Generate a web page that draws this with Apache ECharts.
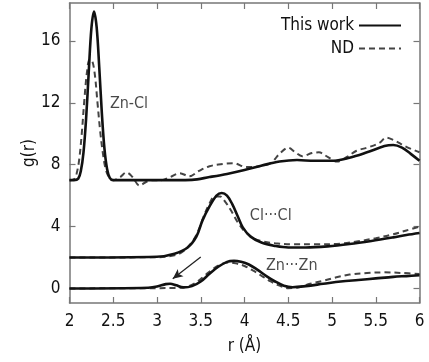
<!DOCTYPE html>
<html>
<head>
<meta charset="utf-8">
<script src="https://cdn.jsdelivr.net/npm/echarts@6/dist/echarts.min.js"></script>
<style>
  html, body { margin: 0; padding: 0; background: #fff; }
  #chart { width: 429px; height: 362px; }
</style>
</head>
<body>
<div id="chart"></div>
<script>
// Radial distribution functions g(r); Zn-Cl offset by +7, Cl···Cl by +2.
const xTicks = [2, 2.5, 3, 3.5, 4, 4.5, 5, 5.5, 6];
const yTicks = [0, 4, 8, 12, 16];

const znclWork = [
  [2.0, 7.0], [2.05, 7.0], [2.1, 7.1], [2.13, 7.6], [2.16, 8.8], [2.19, 11.0],
  [2.22, 14.0], [2.25, 16.8], [2.28, 17.9], [2.31, 16.9], [2.34, 14.3],
  [2.37, 11.3], [2.40, 9.0], [2.43, 7.7], [2.46, 7.15], [2.5, 7.0], [3.0, 7.0],
  [3.4, 7.02], [3.6, 7.2], [3.8, 7.4], [4.0, 7.65], [4.2, 7.95], [4.4, 8.2],
  [4.6, 8.3], [4.8, 8.25], [5.0, 8.25], [5.2, 8.45], [5.4, 8.8], [5.6, 9.2],
  [5.7, 9.27], [5.8, 9.1], [5.9, 8.7], [6.0, 8.25]
];
const znclND = [
  [2.0, 7.0], [2.05, 7.05], [2.08, 7.4], [2.11, 8.3], [2.14, 10.0], [2.17, 12.2],
  [2.20, 14.0], [2.23, 14.8], [2.26, 14.7], [2.29, 13.8], [2.32, 12.0],
  [2.35, 10.2], [2.38, 8.8], [2.41, 7.8], [2.45, 7.2], [2.5, 7.0], [2.58, 7.2],
  [2.65, 7.5], [2.72, 7.2], [2.8, 6.65], [2.88, 6.9], [2.96, 7.0], [3.05, 7.0],
  [3.15, 7.2], [3.26, 7.45], [3.37, 7.25], [3.48, 7.6], [3.6, 7.9], [3.75, 8.05],
  [3.87, 8.1], [4.02, 7.85], [4.17, 7.9], [4.3, 8.1], [4.4, 8.7], [4.5, 9.1],
  [4.58, 8.8], [4.66, 8.55], [4.77, 8.75], [4.85, 8.8], [4.95, 8.5], [5.06, 8.2],
  [5.17, 8.5], [5.28, 8.9], [5.4, 9.1], [5.54, 9.4], [5.62, 9.75], [5.7, 9.6],
  [5.85, 9.15], [6.0, 8.8]
];
const clclWork = [
  [2.0, 2.0], [3.0, 2.05], [3.2, 2.25], [3.35, 2.65], [3.45, 3.35], [3.52, 4.4],
  [3.6, 5.3], [3.68, 6.0], [3.74, 6.17], [3.8, 6.0], [3.86, 5.45], [3.92, 4.7],
  [3.98, 3.95], [4.07, 3.35], [4.2, 2.95], [4.35, 2.75], [4.5, 2.65], [4.7, 2.65],
  [4.95, 2.72], [5.2, 2.87], [5.45, 3.07], [5.7, 3.3], [5.85, 3.45], [6.0, 3.58]
];
const clclND = [
  [2.0, 2.0], [3.0, 2.02], [3.2, 2.15], [3.3, 2.4], [3.4, 3.0], [3.47, 3.7],
  [3.53, 4.6], [3.6, 5.5], [3.66, 5.95], [3.72, 5.95], [3.78, 5.6], [3.85, 5.0],
  [3.92, 4.3], [4.0, 3.7], [4.1, 3.25], [4.2, 3.05], [4.35, 2.92], [4.55, 2.85],
  [4.8, 2.85], [5.1, 2.9], [5.3, 3.05], [5.5, 3.25], [5.7, 3.5], [5.85, 3.75],
  [6.0, 4.0]
];
const znznWork = [
  [2.0, 0.0], [2.9, 0.05], [3.0, 0.12], [3.1, 0.28], [3.15, 0.3], [3.22, 0.2],
  [3.3, 0.07], [3.4, 0.15], [3.5, 0.45], [3.6, 0.95], [3.7, 1.4], [3.8, 1.72],
  [3.88, 1.78], [3.96, 1.72], [4.05, 1.55], [4.15, 1.2], [4.25, 0.8], [4.35, 0.45],
  [4.45, 0.18], [4.55, 0.08], [4.7, 0.15], [4.9, 0.3], [5.1, 0.45], [5.3, 0.55],
  [5.5, 0.65], [5.7, 0.75], [5.85, 0.8], [6.0, 0.85]
];
const znznND = [
  [2.0, 0.0], [3.0, 0.02], [3.2, 0.03], [3.35, 0.12], [3.45, 0.4], [3.55, 0.85],
  [3.65, 1.3], [3.75, 1.6], [3.82, 1.68], [3.9, 1.62], [4.0, 1.45], [4.1, 1.15],
  [4.2, 0.8], [4.3, 0.45], [4.4, 0.18], [4.5, 0.02], [4.6, 0.05], [4.75, 0.3],
  [4.9, 0.5], [5.05, 0.72], [5.2, 0.9], [5.4, 1.0], [5.6, 1.04], [5.8, 1.0],
  [6.0, 0.93]
];

// Pair labels, placed in data coordinates (r, g)
const pairLabels = [
  { text: 'Zn-Cl', r: 2.68, g: 11.95 },
  { text: 'Cl\u00B7\u00B7\u00B7Cl', r: 4.3, g: 4.7 },
  { text: 'Zn\u00B7\u00B7\u00B7Zn', r: 4.54, g: 1.47 }
];
// Arrow pointing at the small Zn···Zn feature
const arrowFrom = [3.5, 2.03];
const arrowTo = [3.18, 0.63];

const FONT = '"DejaVu Sans Condensed", "DejaVu Sans", sans-serif';
const AXIS_GRAY = '#777';

const chart = echarts.init(document.getElementById('chart'), null, { renderer: 'canvas' });

function solid(name, data) {
  return {
    type: 'line', name: name, data: data, smooth: 0.35,
    symbol: 'none', showSymbol: false,
    lineStyle: { color: '#111', width: 2.6 },
    itemStyle: { color: '#111' },
    z: 3
  };
}
function dashed(name, data) {
  return {
    type: 'line', name: name, data: data, smooth: 0.35,
    symbol: 'none', showSymbol: false,
    lineStyle: { color: '#444', width: 2, type: [6, 4] },
    itemStyle: { color: '#444' },
    z: 2
  };
}

const series = [
  dashed('ND', znclND),
  dashed('ND', clclND),
  dashed('ND', znznND),
  solid('This work', znclWork),
  solid('This work', clclWork),
  solid('This work', znznWork)
];

// Annotation carrier series: labels and the arrow
series.push({
  type: 'scatter', name: 'labels', silent: true,
  symbolSize: 0,
  data: pairLabels.map(p => ({ value: [p.r, p.g], name: p.text })),
  label: {
    show: true, position: 'inside', formatter: p => p.name,
    fontFamily: FONT, fontSize: 16, color: '#1a1a1a'
  },
  markLine: {
    silent: true, symbol: ['none', 'arrow'], symbolSize: [7, 10],
    lineStyle: { color: '#222', width: 1.3, type: 'solid' },
    label: { show: false },
    data: [[{ coord: arrowFrom }, { coord: arrowTo }]]
  },
  z: 4
});

const baseAxisStyle = {
  axisLine: { show: true, onZero: false, lineStyle: { color: AXIS_GRAY, width: 1.5 } },
  axisTick: { show: true, inside: true, length: 6, lineStyle: { color: AXIS_GRAY, width: 1.2 } },
  splitLine: { show: false }
};

chart.setOption({
  animation: false,
  backgroundColor: '#fff',
  grid: { left: 69.5, right: 9.5, top: 3, bottom: 59, containLabel: false },
  legend: {
    orient: 'vertical', right: 22, top: 12, align: 'right',
    itemWidth: 42, itemHeight: 14, itemGap: 6,
    data: ['This work', 'ND'],
    itemStyle: { opacity: 0 },
    textStyle: { fontFamily: FONT, fontSize: 17, color: '#111' },
    inactiveColor: '#111'
  },
  xAxis: [
    Object.assign({
      type: 'value', min: 2, max: 6, interval: 0.5, position: 'bottom',
      name: 'r (\u00C5)', nameLocation: 'middle', nameGap: 35, nameMoveOverlap: false,
      nameTextStyle: { fontFamily: FONT, fontSize: 17, color: '#111' },
      axisLabel: { fontFamily: FONT, fontSize: 17, color: '#111', margin: 10,
        customValues: xTicks, formatter: v => String(v) }
    }, baseAxisStyle),
    Object.assign({
      type: 'value', min: 2, max: 6, interval: 0.5, position: 'top',
      axisLabel: { show: false }
    }, baseAxisStyle)
  ],
  yAxis: [
    Object.assign({
      type: 'value', min: -0.94, max: 18.45, position: 'left',
      name: 'g(r)', nameLocation: 'middle', nameGap: 31, nameMoveOverlap: false,
      nameTextStyle: { fontFamily: FONT, fontSize: 17, color: '#111' },
      axisLabel: { fontFamily: FONT, fontSize: 17, color: '#111', margin: 9,
        customValues: yTicks, formatter: v => String(v) },
      axisTick: { show: true, inside: true, length: 6, customValues: yTicks,
        lineStyle: { color: AXIS_GRAY, width: 1.2 } }
    }, { axisLine: baseAxisStyle.axisLine, splitLine: { show: false } }),
    {
      type: 'value', min: -0.94, max: 18.45, position: 'right',
      axisLine: baseAxisStyle.axisLine, splitLine: { show: false },
      axisLabel: { show: false, customValues: yTicks },
      axisTick: { show: true, inside: true, length: 6, customValues: yTicks,
        lineStyle: { color: AXIS_GRAY, width: 1.2 } }
    }
  ],
  series: series
});
</script>
</body>
</html>
